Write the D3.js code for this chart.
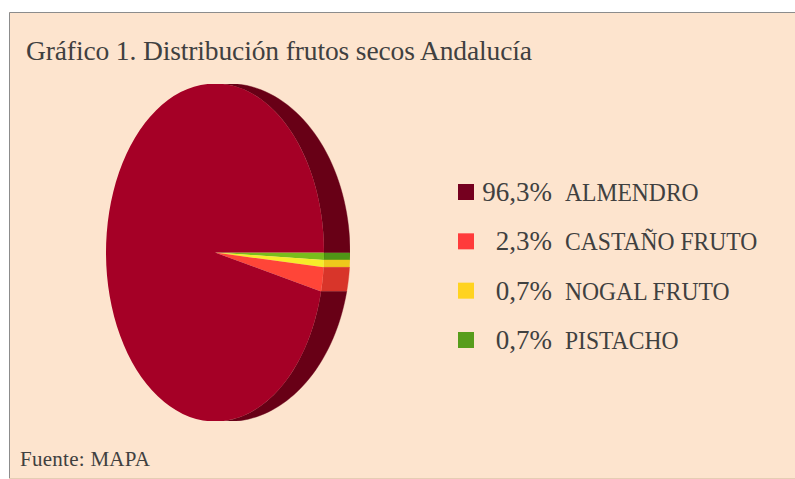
<!DOCTYPE html>
<html>
<head>
<meta charset="utf-8">
<script src="https://d3js.org/d3.v7.min.js"></script>
<style>
  html, body { margin: 0; padding: 0; background: #fff; }
  svg { display: block; }
  text { font-family: "Liberation Serif", serif; fill: #404040; }
</style>
</head>
<body>
<div id="chart"></div>
<script>
const categories = ["ALMENDRO", "CASTAÑO FRUTO", "NOGAL FRUTO", "PISTACHO"];
const shares = [96.3, 2.3, 0.7, 0.7];
const shareLabels = ["96,3%", "2,3%", "0,7%", "0,7%"];
const faceColors = ["#a50026", "#ff4438", "#f6ec2c", "#78bd1e"];
const sideColors = ["#680019", "#d8362c", "#eec81f", "#4f9416"];
const legendColors = ["#75001f", "#ff3b3b", "#ffd320", "#579d1c"];

const width = 795, height = 479;
// front face ellipse plus the wider outline that the wall reaches
const pie3d = { cx: 215, cy: 252.5, rx: 109, ry: 169, outerCx: 228, outerRx: 122, top: 84, bottom: 421, left: 106, right: 350 };

const svg = d3.select("#chart").append("svg")
    .attr("width", width)
    .attr("height", height)
    .attr("viewBox", `0 0 ${width} ${height}`);

// panel
svg.append("rect")
    .attr("x", 9).attr("y", 12)
    .attr("width", width - 9).attr("height", 466)
    .attr("fill", "#fde4ce");
svg.append("path")
    .attr("d", `M9.5,478V12.5H${width}`)
    .attr("fill", "none").attr("stroke", "#8c8c8c");
svg.append("path")
    .attr("d", `M9,478.5H${width}`)
    .attr("fill", "none").attr("stroke", "#e6cdb4");

svg.append("text")
    .attr("x", 26).attr("y", 60)
    .attr("font-size", 27.5)
    .attr("textLength", 506)
    .text("Gráfico 1. Distribución frutos secos Andalucía");

svg.append("text")
    .attr("x", 20).attr("y", 466)
    .attr("font-size", 21)
    .attr("textLength", 130)
    .text("Fuente: MAPA");

// the slices run clockwise from 3 o'clock, smallest first
const order = d3.range(categories.length).reverse();
const slices = d3.pie()
    .sort(null)
    .value(i => shares[i])
    .startAngle(Math.PI / 2)
    .endAngle(Math.PI / 2 + 2 * Math.PI)(order);

const defs = svg.append("defs");
defs.append("clipPath").attr("id", "pie-clip").append("rect")
    .attr("x", pie3d.left).attr("y", pie3d.top)
    .attr("width", pie3d.right - pie3d.left)
    .attr("height", pie3d.bottom - pie3d.top);
defs.append("filter").attr("id", "soft")
    .append("feGaussianBlur").attr("stdDeviation", 0.6);

const pieG = svg.append("g")
    .attr("clip-path", "url(#pie-clip)")
    .append("g")
    .attr("filter", "url(#soft)");

const frontEdge = a => [pie3d.cx + pie3d.rx * Math.sin(a), pie3d.cy - pie3d.ry * Math.cos(a)];
const outerEdge = a => [pie3d.outerCx + pie3d.outerRx * Math.sin(a), pie3d.cy - pie3d.ry * Math.cos(a)];

// side wall: band between the front rim and the outer outline
function wall(a0, a1) {
    const steps = d3.range(0, 41).map(k => a0 + (a1 - a0) * k / 40);
    const pts = steps.map(frontEdge).concat(steps.slice().reverse().map(outerEdge));
    return d3.line()(pts) + "Z";
}

// only the right half of the rim shows a wall
const visible = [[0, Math.PI], [2 * Math.PI, 3 * Math.PI]];
slices.forEach(s => {
    visible.forEach(([lo, hi]) => {
        const a0 = Math.max(s.startAngle, lo), a1 = Math.min(s.endAngle, hi);
        if (a1 > a0) {
            pieG.append("path")
                .attr("d", wall(a0, a1))
                .attr("fill", sideColors[s.data])
                .attr("stroke", sideColors[s.data])
                .attr("stroke-width", 0.4);
        }
    });
});

// front face: circular arcs squeezed into an ellipse
const arc = d3.arc().innerRadius(0).outerRadius(pie3d.ry);
pieG.append("g")
    .attr("transform", `translate(${pie3d.cx},${pie3d.cy}) scale(${pie3d.rx / pie3d.ry},1)`)
    .selectAll("path")
    .data(slices)
    .enter()
    .append("path")
    .attr("d", arc)
    .attr("fill", d => faceColors[d.data]);

// legend
const legendY = d3.scalePoint()
    .domain(categories)
    .range([192, 340]);

const legend = svg.append("g");
legend.selectAll("rect")
    .data(categories)
    .enter()
    .append("rect")
    .attr("x", 458)
    .attr("y", d => legendY(d) - 8)
    .attr("width", 16)
    .attr("height", 16)
    .attr("fill", (d, i) => legendColors[i]);

legend.selectAll("text.share")
    .data(categories)
    .enter()
    .append("text")
    .attr("class", "share")
    .attr("x", 552)
    .attr("y", d => legendY(d) + 9)
    .attr("text-anchor", "end")
    .attr("font-size", 27)
    .text((d, i) => shareLabels[i]);

// Liberation is wider in capitals than the reference face, so squeeze the names a bit
legend.selectAll("text.name")
    .data(categories)
    .enter()
    .append("text")
    .attr("class", "name")
    .attr("x", 565)
    .attr("y", d => legendY(d) + 9)
    .attr("font-size", 25.5)
    .text(d => d)
    .attr("lengthAdjust", "spacingAndGlyphs")
    .attr("textLength", function () { return this.getComputedTextLength() * 0.925; });
</script>
</body>
</html>
